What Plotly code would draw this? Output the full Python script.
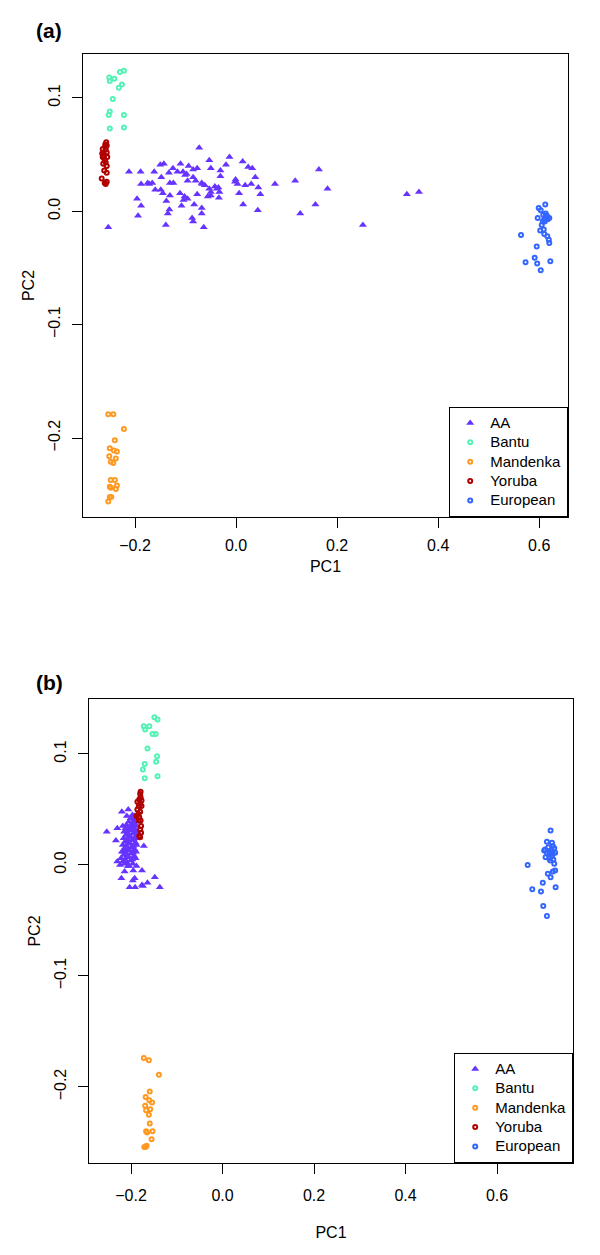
import plotly.graph_objects as go

# ---------------- Panel (a) data ----------------
a_aa_x = [-0.073, -0.013, -0.053, 0.013, -0.110, -0.143, -0.150, -0.094, -0.077, -0.085,
          0.024, 0.032, -0.020, -0.050, -0.031, 0.164, -0.212, -0.189, -0.162, -0.133,
          -0.116, -0.105, -0.098, -0.125, -0.101, -0.085, -0.031, 0.038, -0.001, -0.002,
          -0.148, -0.096, -0.131, -0.124, -0.175, -0.166, -0.188, -0.172, -0.068, -0.080,
          -0.062, -0.067, -0.042, -0.053, -0.035, 0.003, 0.018, 0.030, 0.044, 0.077,
          0.117, 0.181, -0.160, -0.149, -0.145, -0.111, -0.131, -0.077, -0.056, -0.050,
          -0.033, -0.038, -0.050, -0.034, 0.006, 0.048, -0.102, -0.096, -0.104, -0.196,
          -0.138, -0.083, -0.108, -0.068, -0.188, -0.132, 0.014, 0.043, 0.157, -0.194,
          -0.135, -0.068, -0.087, -0.085, 0.127, -0.253, -0.139, -0.064, 0.251, 0.338,
          0.362]
a_aa_y = [0.056, 0.048, 0.045, 0.044, 0.042, 0.042, 0.041, 0.040, 0.038, 0.037,
          0.039, 0.038, 0.041, 0.038, 0.036, 0.037, 0.035, 0.035, 0.035, 0.034,
          0.035, 0.035, 0.033, 0.038, 0.032, 0.030, 0.031, 0.030, 0.028, 0.026,
          0.030, 0.027, 0.025, 0.025, 0.025, 0.025, 0.024, 0.024, 0.025, 0.027,
          0.023, 0.024, 0.022, 0.020, 0.021, 0.024, 0.023, 0.024, 0.021, 0.024,
          0.027, 0.020, 0.019, 0.019, 0.016, 0.016, 0.014, 0.015, 0.013, 0.017,
          0.017, 0.020, 0.014, 0.012, 0.016, 0.015, 0.013, 0.011, 0.010, 0.011,
          0.009, 0.006, 0.005, 0.003, 0.005, 0.0015, 0.006, 0.001, 0.006, -0.004,
          -0.002, -0.002, -0.006, -0.009, -0.002, -0.014, -0.012, -0.014, -0.012, 0.015,
          0.017]

a_bantu_x = [-0.230, -0.222, -0.251, -0.241, -0.250, -0.226, -0.232, -0.244, -0.250, -0.252,
             -0.222, -0.250, -0.222]
a_bantu_y = [0.123, 0.124, 0.118, 0.117, 0.115, 0.112, 0.109, 0.099, 0.088, 0.085,
             0.085, 0.073, 0.074]

a_mand_x = [-0.253, -0.243, -0.222, -0.240, -0.250, -0.242, -0.236, -0.251, -0.238, -0.248,
            -0.243, -0.248, -0.240, -0.250, -0.248, -0.236, -0.238, -0.247, -0.250, -0.253]
a_mand_y = [-0.179, -0.179, -0.192, -0.202, -0.209, -0.211, -0.212, -0.216, -0.218, -0.221,
            -0.222, -0.237, -0.237, -0.243, -0.244, -0.242, -0.245, -0.252, -0.252, -0.256]

a_yor_x = [-0.257, -0.259, -0.256, -0.264, -0.258, -0.265, -0.256, -0.261, -0.264, -0.255,
           -0.260, -0.258, -0.263, -0.256, -0.261, -0.256, -0.266, -0.256, -0.258, -0.260,
           -0.263, -0.259, -0.262]
a_yor_y = [0.061, 0.059, 0.058, 0.055, 0.055, 0.051, 0.052, 0.049, 0.048, 0.048,
           0.045, 0.043, 0.042, 0.040, 0.036, 0.034, 0.029, 0.026, 0.024, 0.025,
           0.048, 0.057, 0.052]

a_eur_x = [0.612, 0.599, 0.603, 0.613, 0.597, 0.615, 0.620, 0.610, 0.617, 0.607,
           0.605, 0.602, 0.609, 0.610, 0.616, 0.564, 0.619, 0.620, 0.595, 0.591,
           0.573, 0.596, 0.622, 0.603, 0.614, 0.612, 0.608, 0.616, 0.611]
a_eur_y = [0.006, 0.003, 0.001, -0.002, -0.006, -0.004, -0.006, -0.007, -0.007, -0.009,
           -0.012, -0.017, -0.016, -0.020, -0.022, -0.021, -0.025, -0.028, -0.031, -0.041,
           -0.045, -0.046, -0.044, -0.052, -0.004, -0.006, -0.003, -0.005, -0.009]

# ---------------- Panel (b) data ----------------
b_aa_x = [-0.220, -0.206, -0.209, -0.193, -0.230, -0.218, -0.253, -0.233, -0.172, -0.230,
          -0.215, -0.176, -0.148, -0.221, -0.203, -0.191, -0.176, -0.164, -0.174, -0.137,
          -0.214, -0.195, -0.188, -0.207, -0.196, -0.192,
          -0.197, -0.201, -0.193, -0.205, -0.196, -0.190, -0.210, -0.202, -0.195, -0.188,
          -0.212, -0.204, -0.198, -0.191, -0.215, -0.207, -0.200, -0.193, -0.186, -0.211,
          -0.203, -0.196, -0.189, -0.216, -0.208, -0.201, -0.194, -0.187, -0.213, -0.205,
          -0.198, -0.190, -0.218, -0.210, -0.202, -0.195, -0.188, -0.214, -0.206, -0.199,
          -0.192, -0.220, -0.211, -0.203, -0.196, -0.189, -0.216, -0.208, -0.200, -0.193,
          -0.222, -0.213, -0.205, -0.197, -0.190, -0.218, -0.209, -0.201, -0.224, -0.214,
          -0.204, -0.196]
b_aa_y = [0.048, 0.050, 0.044, 0.044, 0.033, 0.035, 0.030, 0.022, 0.017, 0.003,
          0.012, -0.005, -0.011, -0.012, -0.020, -0.020, -0.018, -0.016, -0.019, -0.020,
          -0.006, -0.005, -0.001, -0.001, -0.014, -0.012,
          0.045, 0.042, 0.041, 0.039, 0.038, 0.039, 0.036, 0.035, 0.036, 0.035,
          0.033, 0.032, 0.034, 0.032, 0.030, 0.029, 0.031, 0.029, 0.030, 0.027,
          0.026, 0.028, 0.026, 0.024, 0.023, 0.025, 0.023, 0.024, 0.021, 0.020,
          0.022, 0.020, 0.018, 0.017, 0.019, 0.017, 0.018, 0.015, 0.014, 0.016,
          0.014, 0.012, 0.011, 0.013, 0.011, 0.012, 0.009, 0.008, 0.010, 0.008,
          0.006, 0.005, 0.007, 0.005, 0.006, 0.003, 0.002, 0.004, 0.000, 0.001,
          -0.001, 0.001]

b_bantu_x = [-0.149, -0.142, -0.172, -0.160, -0.169, -0.153, -0.146, -0.164, -0.143, -0.145,
             -0.170, -0.174, -0.142, -0.170]
b_bantu_y = [0.133, 0.131, 0.125, 0.125, 0.122, 0.118, 0.118, 0.105, 0.098, 0.093,
             0.091, 0.086, 0.080, 0.078]

b_mand_x = [-0.172, -0.161, -0.139, -0.159, -0.168, -0.160, -0.154, -0.169, -0.167, -0.158,
            -0.161, -0.159, -0.167, -0.153, -0.165, -0.155, -0.171, -0.166, -0.168]
b_mand_y = [-0.174, -0.176, -0.189, -0.204, -0.209, -0.212, -0.214, -0.217, -0.221, -0.220,
            -0.225, -0.233, -0.240, -0.240, -0.241, -0.247, -0.254, -0.253, -0.254]

b_yor_x = [-0.179, -0.180, -0.179, -0.182, -0.177, -0.186, -0.180, -0.183, -0.177, -0.186,
           -0.180, -0.184, -0.188, -0.182, -0.179, -0.183, -0.178, -0.180, -0.178, -0.182,
           -0.180]
b_yor_y = [0.066, 0.064, 0.061, 0.059, 0.058, 0.057, 0.055, 0.053, 0.053, 0.050,
           0.048, 0.046, 0.044, 0.043, 0.040, 0.040, 0.035, 0.032, 0.029, 0.026,
           0.025]

b_eur_x = [0.717, 0.709, 0.720, 0.722, 0.705, 0.712, 0.718, 0.725, 0.709, 0.727,
           0.716, 0.722, 0.706, 0.714, 0.723, 0.716, 0.725, 0.667, 0.727, 0.722,
           0.711, 0.717, 0.700, 0.728, 0.677, 0.696, 0.701, 0.709, 0.714, 0.720,
           0.703]
b_eur_y = [0.031, 0.021, 0.020, 0.017, 0.014, 0.016, 0.013, 0.015, 0.011, 0.011,
           0.010, 0.010, 0.007, 0.006, 0.005, 0.004, 0.001, 0.000, -0.005, -0.006,
           -0.008, -0.011, -0.016, -0.020, -0.022, -0.024, -0.037, -0.046, 0.012, 0.008,
           0.013]

groups = ["AA", "Bantu", "Mandenka", "Yoruba", "European"]
colors = {"AA": "#6633ff", "Bantu": "#55f2b5", "Mandenka": "#ff9922",
          "Yoruba": "#b00000", "European": "#3366ff"}

x_ticks_a = [-0.2, 0.0, 0.2, 0.4, 0.6]
y_ticks = [-0.2, -0.1, 0.0, 0.1]

panel_a = {"AA": (a_aa_x, a_aa_y), "Bantu": (a_bantu_x, a_bantu_y),
           "Mandenka": (a_mand_x, a_mand_y), "Yoruba": (a_yor_x, a_yor_y),
           "European": (a_eur_x, a_eur_y)}
panel_b = {"AA": (b_aa_x, b_aa_y), "Bantu": (b_bantu_x, b_bantu_y),
           "Mandenka": (b_mand_x, b_mand_y), "Yoruba": (b_yor_x, b_yor_y),
           "European": (b_eur_x, b_eur_y)}

FONT = "Liberation Sans, Arial, Helvetica, sans-serif"

fig = go.Figure()


def marker_for(g):
    if g == "AA":
        return dict(symbol="triangle-up", size=7, color=colors[g], line=dict(width=0))
    return dict(symbol="circle-open", size=4, color=colors[g], line=dict(width=2, color=colors[g]))


for panel, (xa, ya, leg) in [(panel_a, ("x", "y", "legend")), (panel_b, ("x2", "y2", "legend2"))]:
    for g in groups:
        xs, ys = panel[g]
        fig.add_trace(go.Scatter(x=xs, y=ys, mode="markers",
                                 name='<span style="font-size:15px">%s</span>' % g,
                                 marker=marker_for(g), hoverinfo="x+y",
                                 xaxis=xa, yaxis=ya, legend=leg, showlegend=True))

# the page body adds an 8px margin, so the figure is 8px smaller and shifted
OFF = 8
W, H = 600 - OFF, 1255 - OFF
# panel boxes in page pixels (left, right, top, bottom)
a_box = (83, 568, 54, 517)
b_box = (89, 573, 699, 1163)


def xd(box):
    return [(box[0] - OFF) / W, (box[1] - OFF) / W]


def yd(box):
    return [1 - (box[3] - OFF) / H, 1 - (box[2] - OFF) / H]


axis_common = dict(showline=True, linecolor="black", linewidth=1.2, mirror=True,
                   ticks="outside", ticklen=10, tickwidth=1.2, tickcolor="black",
                   showgrid=False, zeroline=False, tickformat=".1f", automargin=False,
                   tickfont=dict(family=FONT, size=16, color="black"))
title_font = dict(family=FONT, size=16, color="black")
legend_common = dict(xanchor="right", yanchor="bottom",
                     bgcolor="white", bordercolor="black", borderwidth=1.2,
                     font=dict(family=FONT, size=12.6, color="black"), itemwidth=30,
                     tracegroupgap=0)

fig.update_layout(
    width=W, height=H, margin=dict(l=0, r=0, t=0, b=0, autoexpand=False),
    paper_bgcolor="white", plot_bgcolor="white",
    showlegend=True,
    xaxis=dict(domain=xd(a_box), range=[-0.303, 0.657], tickvals=x_ticks_a, anchor="y",
               title=dict(text="PC1", font=title_font, standoff=7),
               ticklabelstandoff=4, **axis_common),
    yaxis=dict(domain=yd(a_box), range=[-0.2697, 0.1388], tickvals=y_ticks, anchor="x",
               tickangle=-90,
               title=dict(text="PC2", font=title_font, standoff=6),
               ticklabelstandoff=6, **axis_common),
    xaxis2=dict(domain=xd(b_box), range=[-0.2918, 0.766], tickvals=x_ticks_a, anchor="y2",
                title=dict(text="PC1", font=title_font, standoff=23),
                ticklabelstandoff=8, **axis_common),
    yaxis2=dict(domain=yd(b_box), range=[-0.2685, 0.1495], tickvals=y_ticks, anchor="x2",
                tickangle=-90,
                title=dict(text="PC2", font=title_font, standoff=6),
                ticklabelstandoff=6, **axis_common),
    legend=dict(x=(a_box[1] - OFF) / W, y=1 - (a_box[3] - OFF) / H, **legend_common),
    legend2=dict(x=(b_box[1] - OFF) / W, y=1 - (b_box[3] - OFF) / H, **legend_common),
    annotations=[
        dict(text="<b>(a)</b>", x=(49 - OFF) / W, y=1 - (30 - OFF) / H, xref="paper", yref="paper",
             xanchor="center", yanchor="middle",
             showarrow=False, font=dict(family=FONT, size=21, color="black")),
        dict(text="<b>(b)</b>", x=(49 - OFF) / W, y=1 - (683 - OFF) / H, xref="paper", yref="paper",
             xanchor="center", yanchor="middle",
             showarrow=False, font=dict(family=FONT, size=21, color="black")),
    ],
)

fig.write_html("out.html")
